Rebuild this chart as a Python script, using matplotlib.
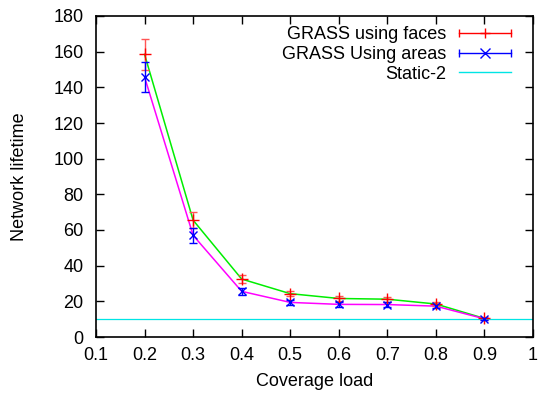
import matplotlib
matplotlib.use("Agg")
import matplotlib.pyplot as plt
from matplotlib.legend_handler import HandlerBase
from matplotlib.lines import Line2D
from matplotlib.ticker import FuncFormatter

plt.rcParams["font.family"] = ["Liberation Sans", "DejaVu Sans"]
FS = 13

# coverage load vs network lifetime
load = [0.2, 0.3, 0.4, 0.5, 0.6, 0.7, 0.8, 0.9]
faces_mean = [158.5, 65.5, 32.5, 24.3, 21.6, 21.2, 18.5, 10.4]
faces_err = [8.5, 4.5, 2.3, 1.4, 1.5, 1.3, 1.3, 0.6]
areas_mean = [145.8, 57.0, 25.6, 19.4, 18.3, 18.2, 17.3, 10.2]
areas_err = [8.3, 4.3, 2.0, 1.6, 1.5, 1.3, 1.3, 0.6]
static2 = 10.0


class HBarHandler(HandlerBase):
    """gnuplot-style key sample: horizontal bar with end caps and a centre marker."""
    def create_artists(self, legend, orig_handle, xdescent, ydescent,
                       width, height, fontsize, trans):
        y = height / 2 - ydescent
        x0, x1 = -xdescent, width - xdescent
        c = orig_handle.get_color()
        bar = Line2D([x0, x1], [y, y], color=c, lw=1)
        caps = Line2D([x0, x1], [y, y], ls="none", marker="|", ms=6, mew=1, color=c)
        mid = Line2D([(x0 + x1) / 2], [y], ls="none", marker=orig_handle.get_marker(),
                     ms=7, mew=1, color=c)
        for a in (bar, caps, mid):
            a.set_transform(trans)
        return [bar, caps, mid]


fig = plt.figure(figsize=(5.4, 4.01), dpi=100)
ax = fig.add_axes([96 / 540, 64 / 401, 437 / 540, 321 / 401])

ax.axhline(static2, color="#00e5e5", lw=0.9, zorder=1)
ax.plot(load, faces_mean, color="#00ee00", lw=1.1, zorder=2)
ax.plot(load, areas_mean, color="#ff00ff", lw=1.1, zorder=2)
ax.errorbar(load, faces_mean, yerr=faces_err, fmt="+", color="#ff0000", ecolor="#ff5555",
            ms=8, mew=1, elinewidth=1, capsize=3, capthick=1, zorder=3)
ax.errorbar(load, areas_mean, yerr=areas_err, fmt="x", color="#0000ff", ecolor="#0000ff",
            ms=6, mew=1, elinewidth=1, capsize=3, capthick=1, zorder=3)

ax.set_xlim(0.1, 1.0)
ax.set_ylim(0, 180)
ax.set_xticks([0.1, 0.2, 0.3, 0.4, 0.5, 0.6, 0.7, 0.8, 0.9, 1.0])
ax.set_yticks(range(0, 181, 20))
ax.xaxis.set_major_formatter(FuncFormatter(lambda v, p: f"{v:g}"))
ax.tick_params(direction="in", top=True, right=True, length=6, width=1,
               labelsize=FS)
ax.tick_params(axis="x", pad=7.5)
ax.tick_params(axis="y", pad=9)
for s in ax.spines.values():
    s.set_linewidth(1.2)

ax.set_xlabel("Coverage load", fontsize=FS)
ax.set_ylabel("Network lifetime", fontsize=FS)
ax.xaxis.set_label_coords(0.5, -0.113)
ax.yaxis.set_label_coords(-0.155, 0.5)

h_faces = Line2D([], [], color="#ff0000", marker="+")
h_areas = Line2D([], [], color="#0000ff", marker="x")
h_static = Line2D([], [], color="#00e5e5", lw=1)
leg = fig.legend([h_faces, h_areas, h_static],
                 ["GRASS using faces", "GRASS Using areas", "Static-2"],
                 handler_map={h_faces: HBarHandler(), h_areas: HBarHandler()},
                 loc="upper right", bbox_to_anchor=(511 / 540, 1 - 26 / 401),
                 frameon=False, markerfirst=False, fontsize=FS,
                 handlelength=2.9, handletextpad=0.67, labelspacing=0.16,
                 borderpad=0, borderaxespad=0)
for t in leg.get_texts():
    t.set_ha("right")

fig.savefig("out.png", dpi=100)
